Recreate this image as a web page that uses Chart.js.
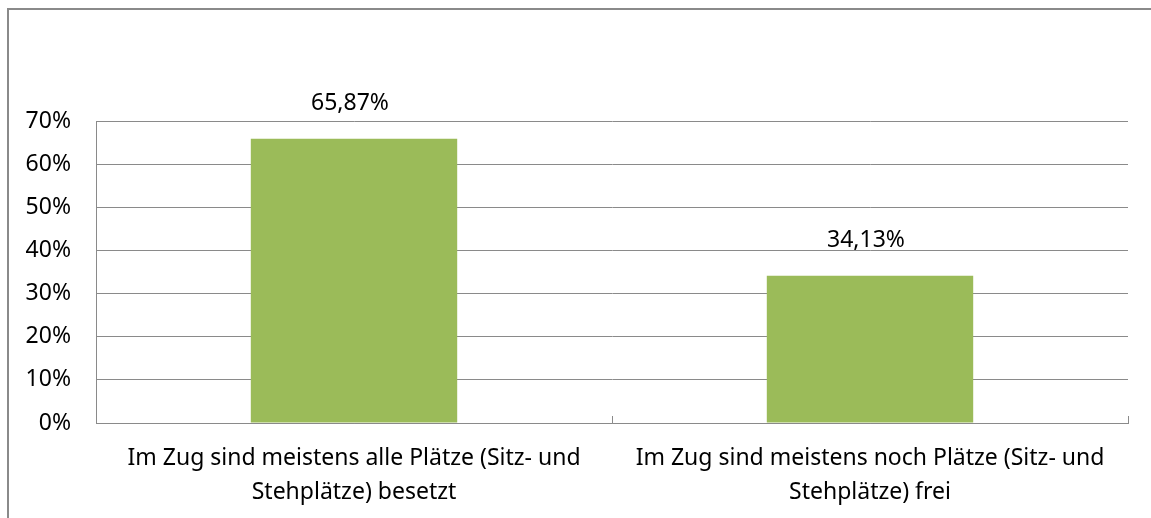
<!DOCTYPE html>
<html>
<head>
<meta charset="utf-8">
<script src="https://cdn.jsdelivr.net/npm/chart.js@4"></script>
<style>
  html, body { margin: 0; padding: 0; background: #fff; overflow: hidden; }
  #wrap { position: relative; width: 1151px; height: 518px; }
  #frame { position: absolute; left: 7px; top: 8px; width: 2000px; height: 2000px; border: 2px solid #8a8a8a; box-sizing: border-box; }
  canvas { position: absolute; left: 0; top: 0; }
</style>
</head>
<body>
<div id="wrap">
  <div id="frame"></div>
  <canvas id="chart" width="1151" height="518"></canvas>
</div>
<script>
// chart data
var categories = [
    ['Im Zug sind meistens alle Plätze (Sitz- und', 'Stehplätze) besetzt'],
    ['Im Zug sind meistens noch Plätze (Sitz- und', 'Stehplätze) frei']
];
var values = [65.87, 34.13];
var valueLabels = ['65,87%', '34,13%'];
var yTicks = [0, 10, 20, 30, 40, 50, 60, 70];

var fontName = '"Noto Sans", "Open Sans", sans-serif';
var gridColor = '#8a8a8a';

// draw the value above each bar
var barLabels = {
    id: 'barLabels',
    afterDatasetsDraw: function(chart) {
        var ctx = chart.ctx;
        var meta = chart.getDatasetMeta(0);
        ctx.save();
        ctx.font = '23px ' + fontName;
        ctx.fillStyle = '#000';
        ctx.textAlign = 'center';
        ctx.textBaseline = 'middle';
        meta.data.forEach(function(bar, i) {
            ctx.fillText(valueLabels[i], bar.x - 4, bar.y - 35);
        });
        ctx.restore();
    }
};

// small inside tick marks between categories (Excel style)
var catTicks = {
    id: 'catTicks',
    afterDraw: function(chart) {
        var x = chart.scales.x;
        var ctx = chart.ctx;
        var n = categories.length;
        var step = (x.right - x.left) / n;
        ctx.save();
        ctx.strokeStyle = gridColor;
        ctx.lineWidth = 1;
        for (var i = 1; i <= n; i++) {
            var px = Math.round(x.left + i * step) + 0.5;
            ctx.beginPath();
            ctx.moveTo(px, x.top);
            ctx.lineTo(px, x.top - 7);
            ctx.stroke();
        }
        ctx.restore();
    }
};

new Chart(document.getElementById('chart'), {
    type: 'bar',
    data: {
        labels: categories,
        datasets: [{
            data: values,
            backgroundColor: '#9bbb59',
            borderWidth: 0,
            categoryPercentage: 1,
            barPercentage: 0.4
        }]
    },
    options: {
        responsive: false,
        animation: false,
        layout: { padding: { top: 121, right: 23, left: 0, bottom: 0 } },
        plugins: { legend: { display: false }, tooltip: { enabled: false } },
        scales: {
            x: {
                grid: { display: false, drawTicks: false },
                border: { display: true, color: gridColor, width: 1 },
                ticks: {
                    color: '#000',
                    font: { family: fontName, size: 23, lineHeight: 1.45 },
                    padding: 19,
                    maxRotation: 0,
                    autoSkip: false
                },
                afterFit: function(s) { s.height = 95; }
            },
            y: {
                min: 0,
                max: 70,
                afterBuildTicks: function(s) {
                    s.ticks = yTicks.map(function(v) { return { value: v }; });
                },
                grid: { color: gridColor, lineWidth: 1, drawTicks: false },
                border: { display: true, color: gridColor, width: 1 },
                ticks: {
                    color: '#000',
                    font: { family: fontName, size: 23 },
                    padding: 25,
                    callback: function(v) { return v + '%'; }
                },
                afterFit: function(s) { s.width = 96; }
            }
        }
    },
    plugins: [barLabels, catTicks]
});
</script>
</body>
</html>
